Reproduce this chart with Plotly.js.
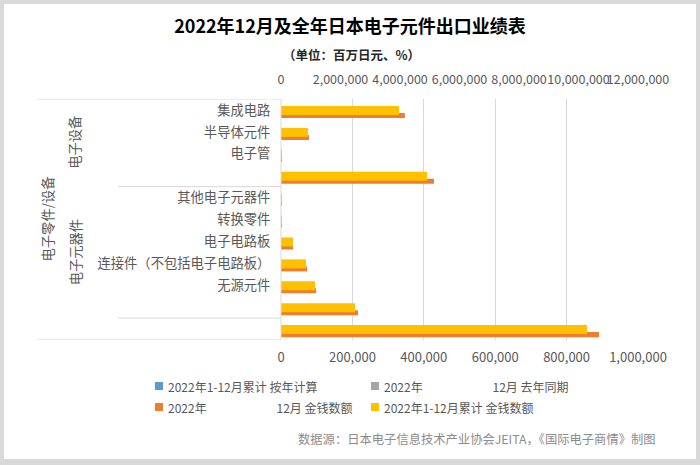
<!DOCTYPE html>
<html>
<head>
<meta charset="utf-8">
<script src="https://cdn.plot.ly/plotly-3.0.1.min.js"></script>
<style>html,body{margin:0;padding:0;background:#d9d9d9;}#chart{width:700px;height:465px;}</style>
</head>
<body>
<div id="chart"></div>
<script>
// Categories (blank labels are subtotal / total rows)
var categories = ['集成电路','半导体元件','电子管','','其他电子元器件','转换零件','电子电路板','连接件（不包括电子电路板）','无源元件','',''];
var groupLabels = ['电子设备','电子元器件','电子零件/设备'];
// 2022年12月 金钱数额 (百万日元) - bottom axis
var decAmount = [347000, 78400, 3000, 428600, 3000, 3000, 33600, 72800, 98000, 215700, 890800];
// 2022年1-12月累计 金钱数额 (百万日元) - top axis
var ytdAmount = [3966000, 907000, 35000, 4908000, 35000, 35000, 403000, 840000, 1143000, 2487000, 10286000];
// percentage series (too small to be visible at these scales)
var ytdYoY = [101, 96, 90, 100, 98, 94, 97, 95, 94, 96, 98];
var decYoY = [99, 93, 88, 98, 96, 92, 95, 93, 92, 94, 96];
var gap = '\u00a0'.repeat(26);
var seriesNames = ['2022年1-12月累计 按年计算', '2022年' + gap + '12月 去年同期', '2022年' + gap + '12月 金钱数额', '2022年1-12月累计 金钱数额'];
var seriesColors = ['#5B9BD5', '#A5A5A5', '#ED7D31', '#FFC000'];

var idx = categories.map(function(_, i){ return i; });
var font = '"Noto Sans CJK SC", "Noto Sans", sans-serif';

var traces = [
  {type:'bar', orientation:'h', name: seriesNames[0], x: ytdYoY, y: idx, xaxis:'x', yaxis:'y',
   marker:{color: seriesColors[0]}, width:0.1, offset:-0.45, showlegend:false, hoverinfo:'skip'},
  {type:'bar', orientation:'h', name: seriesNames[1], x: decYoY, y: idx, xaxis:'x', yaxis:'y',
   marker:{color: seriesColors[1]}, width:0.1, offset:-0.35, showlegend:false, hoverinfo:'skip'},
  {type:'bar', orientation:'h', name: seriesNames[2], x: decAmount, y: idx, xaxis:'x', yaxis:'y',
   marker:{color: seriesColors[2]}, width:0.23, offset:0.14, showlegend:false, hoverinfo:'skip'},
  {type:'bar', orientation:'h', name: seriesNames[3], x: ytdAmount, y: idx, xaxis:'x2', yaxis:'y',
   marker:{color: seriesColors[3]}, width:0.41, offset:-0.18, showlegend:false, hoverinfo:'skip'}
];

var L = 281, R = 638, T = 99, B = 340, W = R - L, H = B - T;
function px(x){ return (x - L) / W; }
function py(y){ return (B - y) / H; }
var lineCol = '#d9d9d9';

var shapes = [
  {type: 'rect', layer: 'below', xref: 'paper', yref: 'paper', x0: px(4), x1: px(696), y0: py(459), y1: py(4),
   fillcolor: '#ffffff', line: {width: 0}},
  {type: 'line', xref: 'paper', yref: 'paper', x0: 0, x1: 0, y0: 0, y1: 1, line: {color: lineCol, width: 1}},
  {type: 'line', xref: 'paper', yref: 'y', x0: px(37), x1: 0, y0: -0.5, y1: -0.5, line: {color: lineCol, width: 1}},
  {type: 'line', xref: 'paper', yref: 'y', x0: px(37), x1: 0, y0: 10.5, y1: 10.5, line: {color: lineCol, width: 1}},
  {type: 'line', xref: 'paper', yref: 'y', x0: px(118), x1: 0, y0: 3.5, y1: 3.5, line: {color: lineCol, width: 1}},
  {type: 'line', xref: 'paper', yref: 'y', x0: px(118), x1: 0, y0: 9.5, y1: 9.5, line: {color: lineCol, width: 1}}
];

var annotations = [
  {text: '<b>（单位：百万日元、%）</b>', xref: 'paper', yref: 'paper', x: px(351), y: py(55), xanchor: 'center', yanchor: 'middle',
   showarrow: false, font: {size: 12.5, color: '#262626'}},
  {text: groupLabels[0], xref: 'paper', yref: 'y', x: px(75), y: 1.5, xanchor: 'center', yanchor: 'middle', textangle: -90,
   showarrow: false, font: {size: 13.3, color: '#595959'}},
  {text: groupLabels[1], xref: 'paper', yref: 'y', x: px(75), y: 6.5, xanchor: 'center', yanchor: 'middle', textangle: -90,
   showarrow: false, font: {size: 13.3, color: '#595959'}},
  {text: groupLabels[2], xref: 'paper', yref: 'y', x: px(47), y: 5, xanchor: 'center', yanchor: 'middle', textangle: -90,
   showarrow: false, font: {size: 13.3, color: '#595959'}},
  {text: '数据源：日本电子信息技术产业协会JEITA，《国际电子商情》制图', xref: 'paper', yref: 'paper',
   x: px(658), xanchor: 'right', y: py(439), yanchor: 'middle', showarrow: false, font: {size: 12.3, color: '#8c8c8c'}}
];

// legend: 2 columns x 2 rows (blue, gray / orange, yellow)
var legendPos = [[155, 386], [371, 386], [155, 407], [371, 407]];
for (var i = 0; i < seriesNames.length; i++) {
  var lx = legendPos[i][0], ly = legendPos[i][1];
  shapes.push({type: 'rect', xref: 'paper', yref: 'paper', x0: px(lx), x1: px(lx + 8), y0: py(ly + 4), y1: py(ly - 4),
               fillcolor: seriesColors[i], line: {width: 0}});
  annotations.push({text: seriesNames[i], xref: 'paper', yref: 'paper', x: px(lx + 11), y: py(ly), xanchor: 'left', yanchor: 'middle',
                    showarrow: false, font: {size: 12, color: '#595959'}});
}

var layout = {
  width: 700, height: 465,
  margin: {l: L, r: 700 - R, t: T, b: 465 - B, pad: 0},
  paper_bgcolor: '#d9d9d9',
  plot_bgcolor: 'rgba(0,0,0,0)',
  font: {family: font, color: '#595959', size: 13},
  barmode: 'overlay',
  showlegend: false,
  title: {text: '<b>2022年12月及全年日本电子元件出口业绩表</b>', x: 0.5, xref: 'container', y: 1 - 27/465, yref: 'container', yanchor: 'middle',
          font: {family: font, size: 18, color: '#000000'}},
  xaxis: {range: [0, 1000000], dtick: 200000, tickformat: ',d', showgrid: true, gridcolor: lineCol, gridwidth: 1,
          zeroline: false, showline: false, ticks: 'outside', ticklen: 5, tickcolor: 'rgba(0,0,0,0)', tickangle: 0,
          tickfont: {size: 13, color: '#595959'}, fixedrange: true},
  xaxis2: {range: [0, 12000000], dtick: 2000000, tickformat: ',d', overlaying: 'x', side: 'top', showgrid: false,
           zeroline: false, showline: false, ticks: 'outside', ticklen: 9, tickcolor: 'rgba(0,0,0,0)', tickangle: 0,
           tickfont: {size: 12.5, color: '#595959'}, fixedrange: true},
  yaxis: {range: [10.5, -0.5], tickvals: idx, ticktext: categories, showgrid: false, zeroline: false,
          showline: false, ticks: 'outside', ticklen: 7, tickcolor: 'rgba(0,0,0,0)',
          tickfont: {size: 13.3, color: '#595959'}, fixedrange: true},
  shapes: shapes,
  annotations: annotations
};

Plotly.newPlot('chart', traces, layout, {displayModeBar: false, staticPlot: true});
</script>
</body>
</html>
